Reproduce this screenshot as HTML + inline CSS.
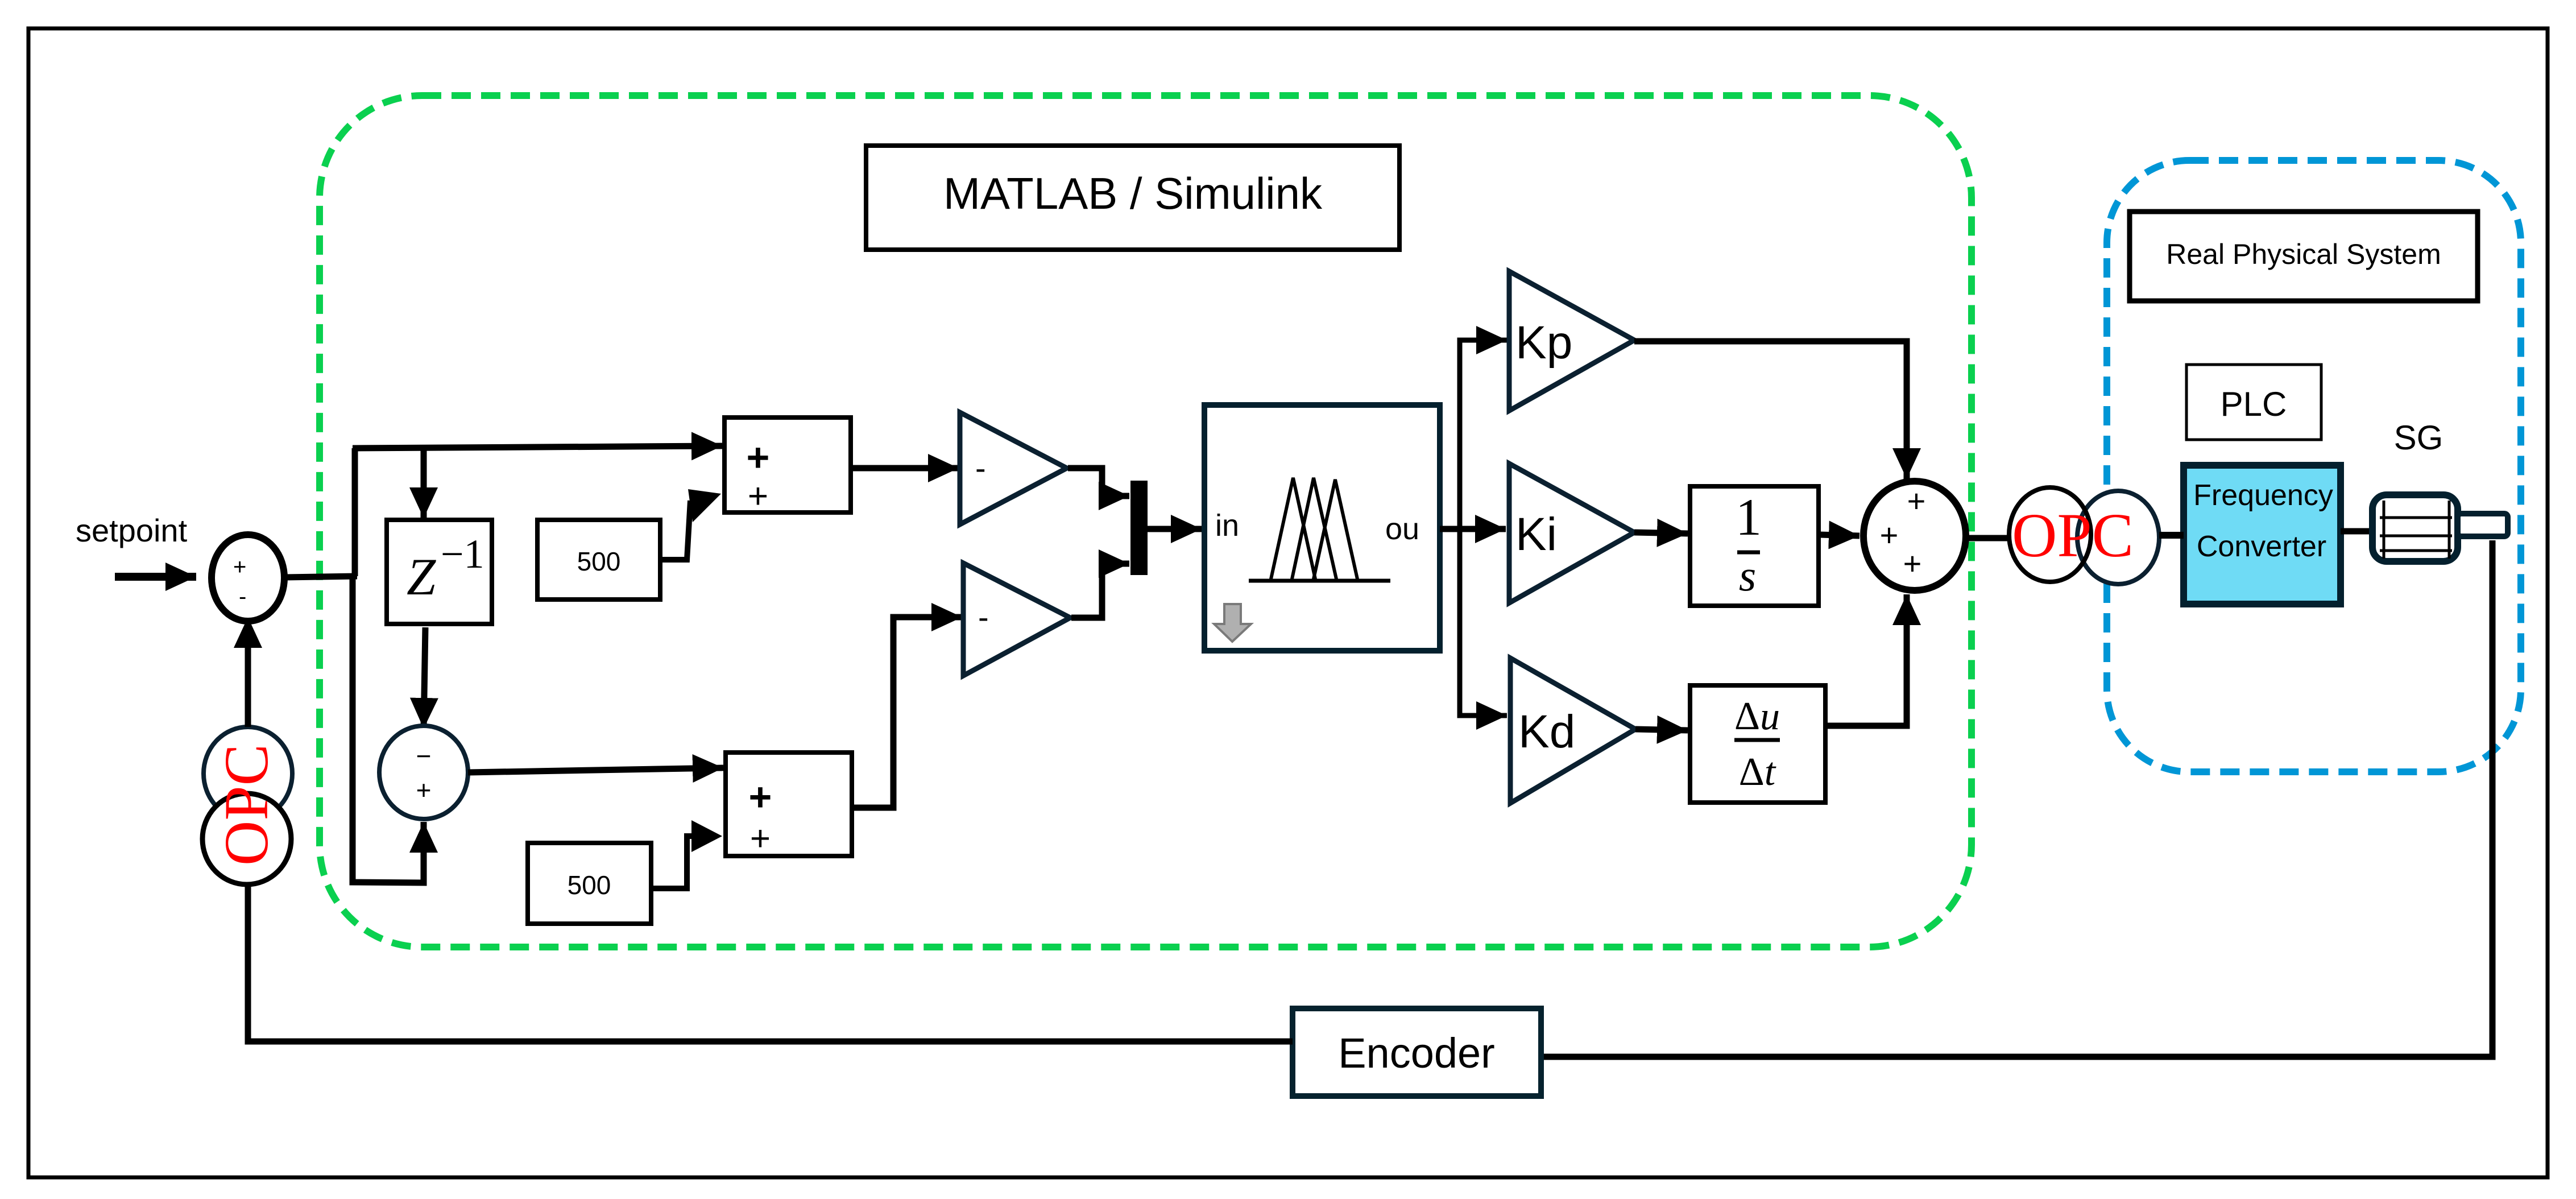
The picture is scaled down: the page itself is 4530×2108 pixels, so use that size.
<!DOCTYPE html>
<html><head><meta charset="utf-8"><style>
html,body{margin:0;padding:0;background:#fff;}
svg{display:block;}
text{font-family:"Liberation Sans",sans-serif;}
.s{font-family:"Liberation Serif",serif;}
</style></head><body>
<svg width="4530" height="2108" viewBox="0 0 4530 2108" xmlns="http://www.w3.org/2000/svg">
<defs>
<marker id="a" markerUnits="userSpaceOnUse" markerWidth="64" markerHeight="56" refX="54" refY="25" orient="auto">
<polygon points="0,0 54,25 0,50" fill="#000"/>
</marker>
</defs>
<rect x="0" y="0" width="4530" height="2108" fill="#fff"/>
<rect x="50" y="50" width="4430" height="2020" fill="none" stroke="#000" stroke-width="7"/>

<rect x="562" y="168" width="2905" height="1497" rx="180" fill="none" stroke="#0ad04f" stroke-width="12" stroke-dasharray="34 18"/>
<rect x="3705" y="282" width="728" height="1075" rx="145" fill="none" stroke="#0096d6" stroke-width="12" stroke-dasharray="34 18"/>

<rect x="1523" y="256" width="938" height="183" fill="#fff" stroke="#000" stroke-width="8"/>
<text x="1992" y="367" font-size="78" text-anchor="middle">MATLAB / Simulink</text>

<rect x="3745" y="372" width="612" height="157" fill="#fff" stroke="#000" stroke-width="9"/>
<text x="4051" y="464" font-size="50" text-anchor="middle">Real Physical System</text>
<rect x="3845" y="641" width="237" height="132" fill="#fff" stroke="#000" stroke-width="5"/>
<text x="3963" y="731" font-size="60" text-anchor="middle">PLC</text>
<text x="4253" y="790" font-size="60" text-anchor="middle">SG</text>
<rect x="3840" y="818" width="276" height="244" fill="#6fdbf5" stroke="#04202e" stroke-width="12"/>
<text x="3980" y="888" font-size="52" text-anchor="middle">Frequency</text>
<text x="3977" y="978" font-size="52" text-anchor="middle">Converter</text>
<line x1="4116" y1="934" x2="4172" y2="934" stroke="#000" stroke-width="11"/>
<rect x="4172" y="870" width="150" height="117" rx="25" fill="#fff" stroke="#04202e" stroke-width="12"/>
<line x1="4192" y1="880" x2="4192" y2="982" stroke="#000" stroke-width="5"/>
<line x1="4307" y1="880" x2="4307" y2="982" stroke="#000" stroke-width="5"/>
<line x1="4185" y1="910" x2="4312" y2="910" stroke="#000" stroke-width="5"/>
<line x1="4185" y1="942" x2="4312" y2="942" stroke="#000" stroke-width="5"/>
<line x1="4185" y1="968" x2="4312" y2="968" stroke="#000" stroke-width="5"/>
<rect x="4322" y="903" width="88" height="40" rx="6" fill="#fff" stroke="#04202e" stroke-width="10"/>

<polyline points="4383,950 4383,1858 2710,1858" fill="none" stroke="#000" stroke-width="11"/>
<rect x="2273" y="1773" width="437" height="154" fill="#fff" stroke="#06222e" stroke-width="10"/>
<text x="2491" y="1877" font-size="74" text-anchor="middle">Encoder</text>
<polyline points="2273,1831 436,1831 436,1553" fill="none" stroke="#000" stroke-width="11"/>

<ellipse cx="436" cy="1360" rx="78" ry="82" fill="#fff" stroke="#0b2030" stroke-width="8"/>
<ellipse cx="434" cy="1475" rx="78" ry="80" fill="#fff" stroke="#000" stroke-width="9"/>
<text class="s" x="0" y="0" font-size="110" fill="#f00" text-anchor="middle" transform="translate(470,1415) rotate(-90)">OPC</text>
<line x1="436" y1="1278" x2="436" y2="1085" stroke="#000" stroke-width="11" marker-end="url(#a)"/>

<text x="133" y="952" font-size="56">setpoint</text>
<line x1="202" y1="1014" x2="345" y2="1014" stroke="#000" stroke-width="14" marker-end="url(#a)"/>
<ellipse cx="436" cy="1016" rx="64" ry="76" fill="#fff" stroke="#000" stroke-width="12"/>
<text x="410" y="1010" font-size="40">+</text>
<text x="420" y="1062" font-size="40">-</text>
<polyline points="500,1015 628,1013" fill="none" stroke="#000" stroke-width="11"/>
<polyline points="624,1013 624,788" fill="none" stroke="#000" stroke-width="11"/>
<polyline points="620,1013 620,1551 745,1552 745,1445" fill="none" stroke="#000" stroke-width="11" marker-end="url(#a)"/>
<line x1="620" y1="788" x2="1270" y2="784" stroke="#000" stroke-width="11" marker-end="url(#a)"/>
<line x1="745" y1="788" x2="745" y2="911" stroke="#000" stroke-width="11" marker-end="url(#a)"/>

<rect x="680" y="914" width="185" height="183" fill="#fff" stroke="#000" stroke-width="8"/>
<text class="s" x="715" y="1045" font-size="92" font-style="italic">Z</text>
<text class="s" x="775" y="998" font-size="72">−1</text>
<line x1="748" y1="1103" x2="745" y2="1281" stroke="#000" stroke-width="11" marker-end="url(#a)"/>

<rect x="945" y="914" width="216" height="140" fill="#fff" stroke="#000" stroke-width="8"/>
<text x="1053" y="1003" font-size="46" text-anchor="middle">500</text>
<polyline points="1161,984 1208,984 1214,880" fill="none" stroke="#000" stroke-width="10"/>
<polygon points="1210,860 1268,868 1218,918" fill="#000"/>

<ellipse cx="745" cy="1358" rx="78" ry="82" fill="#fff" stroke="#0b2030" stroke-width="8"/>
<text x="745" y="1345" font-size="46" text-anchor="middle">−</text>
<text x="745" y="1405" font-size="46" text-anchor="middle">+</text>
<line x1="823" y1="1358" x2="1272" y2="1350" stroke="#000" stroke-width="11" marker-end="url(#a)"/>

<rect x="928" y="1482" width="217" height="142" fill="#fff" stroke="#000" stroke-width="8"/>
<text x="1036" y="1572" font-size="46" text-anchor="middle">500</text>
<polyline points="1145,1562 1208,1562 1208,1470 1225,1470" fill="none" stroke="#000" stroke-width="10"/>
<polygon points="1216,1442 1270,1470 1216,1498" fill="#000"/>

<rect x="1274" y="734" width="222" height="167" fill="#fff" stroke="#000" stroke-width="8"/>
<text x="1333" y="828" font-size="70" text-anchor="middle" font-weight="bold">+</text>
<text x="1333" y="893" font-size="62" text-anchor="middle">+</text>
<rect x="1276" y="1323" width="222" height="182" fill="#fff" stroke="#000" stroke-width="8"/>
<text x="1337" y="1425" font-size="70" text-anchor="middle" font-weight="bold">+</text>
<text x="1337" y="1495" font-size="62" text-anchor="middle">+</text>

<line x1="1496" y1="823" x2="1686" y2="823" stroke="#000" stroke-width="11" marker-end="url(#a)"/>
<polyline points="1498,1420 1571,1420 1571,1085 1692,1085" fill="none" stroke="#000" stroke-width="11" marker-end="url(#a)"/>

<polygon points="1688,725 1688,922 1876,823" fill="#fff" stroke="#0b2030" stroke-width="9"/>
<text x="1715" y="842" font-size="56">-</text>
<polygon points="1694,990 1694,1188 1882,1086" fill="#fff" stroke="#0b2030" stroke-width="9"/>
<text x="1720" y="1104" font-size="56">-</text>
<polyline points="1878,823 1938,823 1938,872 1986,872" fill="none" stroke="#000" stroke-width="11" marker-end="url(#a)"/>
<polyline points="1884,1086 1938,1086 1938,991 1986,991" fill="none" stroke="#000" stroke-width="11" marker-end="url(#a)"/>
<rect x="1988" y="845" width="30" height="166" fill="#000"/>
<line x1="2018" y1="930" x2="2113" y2="930" stroke="#000" stroke-width="11" marker-end="url(#a)"/>

<rect x="2118" y="712" width="414" height="432" fill="#fff" stroke="#04202e" stroke-width="10"/>
<text x="2137" y="942" font-size="54">in</text>
<text x="2436" y="948" font-size="54">ou</text>
<line x1="2196" y1="1021" x2="2445" y2="1021" stroke="#000" stroke-width="7"/>
<polyline points="2235,1018 2274,840 2313,1018" fill="none" stroke="#000" stroke-width="6"/>
<polyline points="2272,1018 2310,840 2350,1018" fill="none" stroke="#000" stroke-width="6"/>
<polyline points="2310,1018 2348,843 2387,1018" fill="none" stroke="#000" stroke-width="6"/>
<polygon points="2153,1062 2182,1062 2182,1097 2200,1097 2167,1128 2135,1097 2153,1097" fill="#b0b0b0" stroke="#7a7a7a" stroke-width="4"/>

<line x1="2532" y1="930" x2="2648" y2="930" stroke="#000" stroke-width="11" marker-end="url(#a)"/>
<polyline points="2650,598 2567,598 2567,1258 2650,1258" fill="none" stroke="#000" stroke-width="9"/>
<line x1="2600" y1="598" x2="2650" y2="598" stroke="#000" stroke-width="9" marker-end="url(#a)"/>
<line x1="2600" y1="1258" x2="2650" y2="1258" stroke="#000" stroke-width="9" marker-end="url(#a)"/>

<polygon points="2654,477 2654,722 2874,598" fill="#fff" stroke="#0b2030" stroke-width="9"/>
<text x="2665" y="630" font-size="82">Kp</text>
<polygon points="2654,815 2654,1060 2874,936" fill="#fff" stroke="#0b2030" stroke-width="9"/>
<text x="2665" y="967" font-size="82">Ki</text>
<polygon points="2656,1157 2656,1412 2876,1282" fill="#fff" stroke="#0b2030" stroke-width="9"/>
<text x="2670" y="1314" font-size="82">Kd</text>

<polyline points="2874,600 3353,600 3353,842" fill="none" stroke="#000" stroke-width="11" marker-end="url(#a)"/>
<line x1="2874" y1="936" x2="2968" y2="938" stroke="#000" stroke-width="11" marker-end="url(#a)"/>
<line x1="2876" y1="1282" x2="2968" y2="1284" stroke="#000" stroke-width="11" marker-end="url(#a)"/>

<rect x="2972" y="855" width="226" height="210" fill="#fff" stroke="#000" stroke-width="8"/>
<text class="s" x="3075" y="940" font-size="92" text-anchor="middle">1</text>
<line x1="3055" y1="971" x2="3095" y2="971" stroke="#000" stroke-width="7"/>
<text class="s" x="3073" y="1038" font-size="78" text-anchor="middle" font-style="italic">s</text>
<line x1="3200" y1="940" x2="3270" y2="942" stroke="#000" stroke-width="11" marker-end="url(#a)"/>

<rect x="2972" y="1205" width="238" height="206" fill="#fff" stroke="#000" stroke-width="8"/>
<text class="s" x="3090" y="1282" font-size="70" text-anchor="middle">Δ<tspan font-style="italic">u</tspan></text>
<line x1="3050" y1="1301" x2="3130" y2="1301" stroke="#000" stroke-width="7"/>
<text class="s" x="3090" y="1380" font-size="70" text-anchor="middle">Δ<tspan font-style="italic">t</tspan></text>
<polyline points="3210,1276 3353,1276 3353,1045" fill="none" stroke="#000" stroke-width="11" marker-end="url(#a)"/>

<ellipse cx="3367" cy="942" rx="90" ry="96" fill="#fff" stroke="#000" stroke-width="12"/>
<text x="3370" y="900" font-size="56" text-anchor="middle">+</text>
<text x="3322" y="960" font-size="56" text-anchor="middle">+</text>
<text x="3363" y="1010" font-size="56" text-anchor="middle">+</text>

<line x1="3457" y1="946" x2="3530" y2="946" stroke="#000" stroke-width="11"/>
<ellipse cx="3725" cy="945" rx="72" ry="82" fill="#fff" stroke="#0b2030" stroke-width="8"/>
<ellipse cx="3605" cy="940" rx="72" ry="83" fill="none" stroke="#000" stroke-width="8"/>
<text class="s" x="3645" y="978" font-size="110" fill="#f00" text-anchor="middle">OPC</text>
<line x1="3797" y1="941" x2="3840" y2="941" stroke="#000" stroke-width="12"/>
</svg>
</body></html>
